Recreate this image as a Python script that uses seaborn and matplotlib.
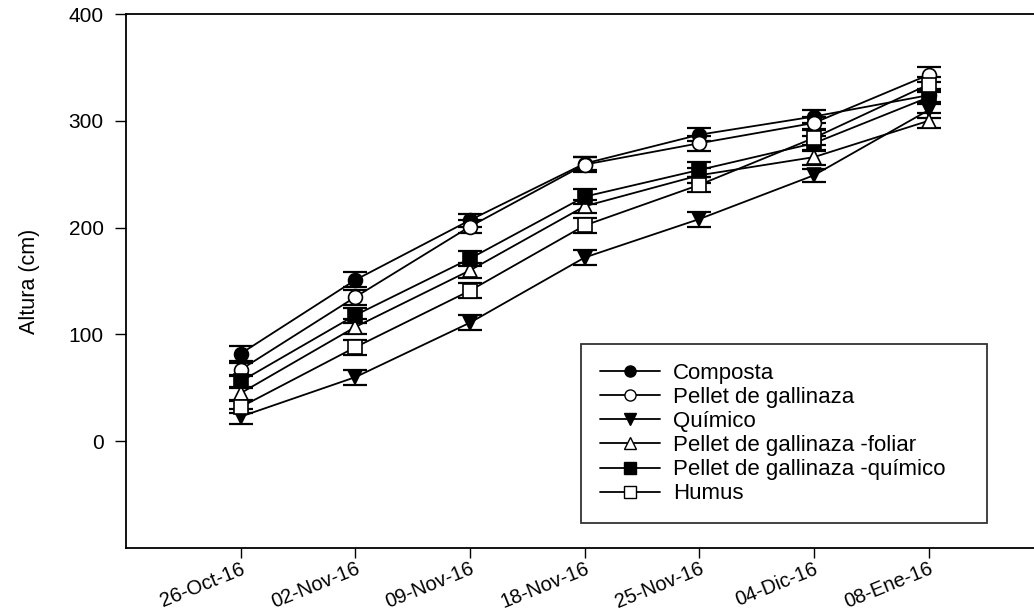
import numpy as np
import pandas as pd
import matplotlib
matplotlib.use("Agg")
import matplotlib.pyplot as plt
import seaborn as sns

# ==========================================
# Data
# ==========================================
fechas = ['26-Oct-16', '02-Nov-16', '09-Nov-16', '18-Nov-16', '25-Nov-16', '04-Dic-16', '08-Ene-16']

tratamientos = ['Composta', 'Pellet de gallinaza', 'Químico',
                'Pellet de gallinaza -foliar', 'Pellet de gallinaza -químico', 'Humus']

composta = [82, 151, 207, 260, 287, 304, 324]
pellet = [67, 135, 201, 259, 279, 298, 343]
quimico = [23, 60, 111, 172, 208, 249, 310]
pellet_foliar = [45, 107, 160, 220, 249, 266, 300]
pellet_quimico = [56, 118, 171, 229, 254, 279, 322]
humus = [32, 88, 141, 202, 240, 284, 334]

err_composta = [7, 7, 6, 6, 6, 6, 6]
err_pellet = [6, 7, 6, 7, 7, 6, 7]
err_quimico = [7, 7, 7, 7, 7, 6, 7]
err_pellet_foliar = [6, 7, 7, 6, 7, 7, 7]
err_pellet_quimico = [6, 7, 7, 7, 7, 7, 6]
err_humus = [6, 7, 7, 7, 7, 7, 7]

valores = [composta, pellet, quimico, pellet_foliar, pellet_quimico, humus]
errores = [err_composta, err_pellet, err_quimico, err_pellet_foliar, err_pellet_quimico, err_humus]

rows = []
for trat, vals, errs in zip(tratamientos, valores, errores):
    for i, (v, e) in enumerate(zip(vals, errs)):
        rows.append({'Tratamiento': trat, 'x': i, 'Fecha': fechas[i], 'Altura': v, 'err': e})
df = pd.DataFrame(rows)

# marker style per treatment: (marker, filled?)
estilos = {
    'Composta': ('o', True),
    'Pellet de gallinaza': ('o', False),
    'Químico': ('v', True),
    'Pellet de gallinaza -foliar': ('^', False),
    'Pellet de gallinaza -químico': ('s', True),
    'Humus': ('s', False),
}

# ==========================================
# Plot
# ==========================================
sns.set_theme(style="ticks")
plt.rcParams['font.family'] = ['Liberation Sans', 'DejaVu Sans']
plt.rcParams['text.color'] = 'black'
plt.rcParams['axes.labelcolor'] = 'black'
plt.rcParams['xtick.color'] = 'black'
plt.rcParams['ytick.color'] = 'black'

fig = plt.figure(figsize=(10.34, 6.10), dpi=100)
ax = fig.add_axes([0.1219, 0.1016, 0.8781, 0.8754])

handles = []
for trat in tratamientos:
    sub = df[df['Tratamiento'] == trat]
    mk, filled = estilos[trat]
    ax.errorbar(sub['x'], sub['Altura'], yerr=sub['err'], fmt='none',
                ecolor='black', elinewidth=1.2, capsize=8.5, capthick=1.6, zorder=2)
    sns.lineplot(data=sub, x='x', y='Altura', ax=ax, color='black', linewidth=1.3,
                 marker=mk, markersize=10, markeredgecolor='black', markeredgewidth=1.2,
                 markerfacecolor='black' if filled else 'white', zorder=3, legend=False)
    h, = ax.plot([], [], color='black', linewidth=1.3, marker=mk, markersize=8,
                 markeredgecolor='black', markeredgewidth=1.0,
                 markerfacecolor='black' if filled else 'white')
    handles.append(h)

ax.set_xlim(-1, 6.92)
ax.set_ylim(-100, 400)
ax.set_yticks([0, 100, 200, 300, 400])
ax.set_xticks(range(len(fechas)))
ax.set_xticklabels(fechas, rotation=22, ha='right', rotation_mode='anchor', fontsize=14.5)
ax.tick_params(axis='y', labelsize=15, length=8, width=1.0, direction='out', pad=8)
ax.tick_params(axis='x', length=7, width=1.0, direction='out', pad=1)
ax.set_xlabel('')
ax.set_ylabel('Altura (cm)', fontsize=15.5)
ax.yaxis.set_label_coords(-0.095, 0.5)

for s in ['left', 'bottom', 'top']:
    ax.spines[s].set_visible(True)
    ax.spines[s].set_color('black')
    ax.spines[s].set_linewidth(1.3)
ax.spines['right'].set_visible(False)

leg = ax.legend(handles, tratamientos, loc='upper left',
                bbox_to_anchor=(0.501, 0.0, 0.447, 0.382), mode='expand',
                fontsize=16, frameon=True, fancybox=False, edgecolor='black',
                handlelength=2.7, handletextpad=0.6, labelspacing=0.14,
                borderpad=0.85, borderaxespad=0)
leg.get_frame().set_linewidth(1.3)
leg.set_zorder(10)

plt.savefig('out.png', dpi=100)
